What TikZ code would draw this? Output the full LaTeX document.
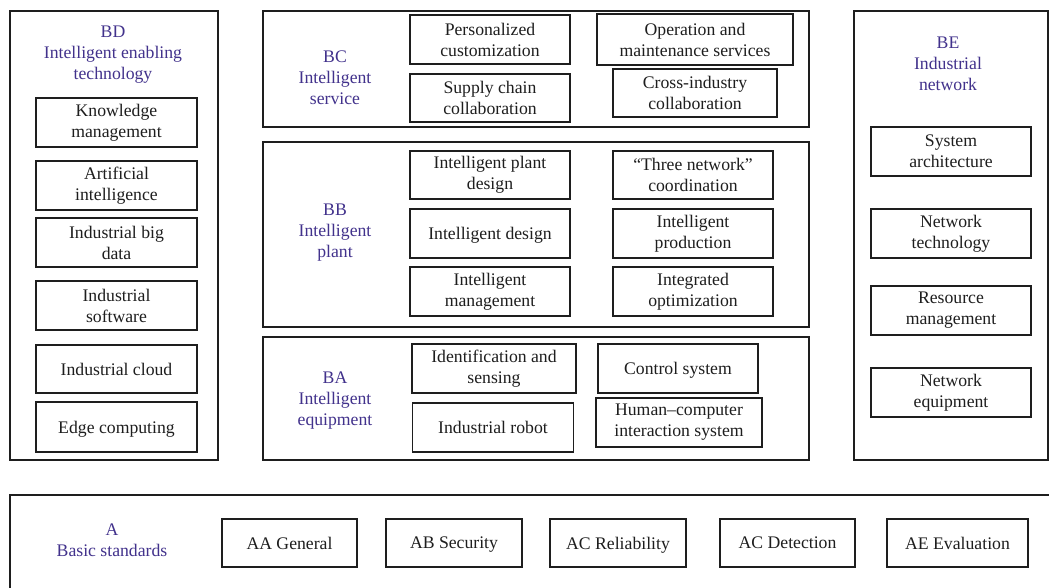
\documentclass[tikz,border=0pt]{standalone}
\usepackage{fontspec}
\setmainfont{Liberation Serif}
\definecolor{ttl}{RGB}{66,50,140}
\definecolor{ink}{RGB}{30,30,30}
\tikzset{
  outer/.style={draw=ink, line width=1.8pt, rectangle, inner sep=0pt},
  ibox/.style={draw=ink, line width=1.4pt, rectangle, inner sep=0pt, align=center,
    text=ink, font=\fontsize{17.7}{21}\selectfont},
  one/.style={text depth=0pt},
  ttlt/.style={align=center, text=ttl, inner sep=0pt, font=\fontsize{17.7}{21}\selectfont},
}
\begin{document}
\begin{tikzpicture}[x=1pt,y=-1pt]
\useasboundingbox (0,0) rectangle (1049,587);
\clip (0,0) rectangle (1049,587);
\fill[white] (0,0) rectangle (1049,587);
% BD
\node[outer, minimum width=208pt, minimum height=449pt] (bd) at (114,235.5) {};
\node[ttlt] (bdt) at (113,55) {BD\\Intelligent enabling\\technology};
\node[ibox, minimum width=161pt, minimum height=49pt] (kn) at (116.5,122.5) {Knowledge\\management};
\node[ibox, minimum width=161pt, minimum height=49pt] (ai) at (116.5,185.5) {Artificial\\intelligence};
\node[ibox, minimum width=161pt, minimum height=49pt] (bdat) at (116.5,242.5) {Industrial big\\data};
\node[ibox, minimum width=161pt, minimum height=49pt] (sw) at (116.5,305.5) {Industrial\\software};
\node[ibox, one, minimum width=161pt, minimum height=48pt] (cl) at (116.5,369) {Industrial cloud};
\node[ibox, one, minimum width=161pt, minimum height=50pt] (ec) at (116.5,427) {Edge computing};
% BC
\node[outer, minimum width=546pt, minimum height=116pt] (bc) at (536,69) {};
\node[ttlt] (bct) at (335,78) {BC\\Intelligent\\service};
\node[ibox, minimum width=160pt, minimum height=49pt] (pc) at (490,39.5) {Personalized\\customization};
\node[ibox, minimum width=196pt, minimum height=51pt] (om) at (695,39.5) {Operation and\\maintenance services};
\node[ibox, minimum width=160pt, minimum height=48pt] (sc) at (490,98) {Supply chain\\collaboration};
\node[ibox, minimum width=164pt, minimum height=48pt] (ci) at (695,93) {Cross-industry\\collaboration};
% BB
\node[outer, minimum width=546pt, minimum height=185pt] (bb) at (536,234.5) {};
\node[ttlt] (bbt) at (335,233) {BB\\Intelligent\\plant};
\node[ibox, minimum width=160pt, minimum height=48pt] (ipd) at (490,175) {Intelligent plant\\design};
\node[ibox, minimum width=160pt, minimum height=48pt] (tnc) at (693,175) {``Three network''\\coordination};
\node[ibox, one, minimum width=160pt, minimum height=49pt] (idz) at (490,233.5) {Intelligent design};
\node[ibox, minimum width=160pt, minimum height=49pt] (ipr) at (693,233.5) {Intelligent\\production};
\node[ibox, minimum width=160pt, minimum height=49pt] (imn) at (490,291.5) {Intelligent\\management};
\node[ibox, minimum width=160pt, minimum height=49pt] (iop) at (693,291.5) {Integrated\\optimization};
% BA
\node[outer, minimum width=546pt, minimum height=123pt] (ba) at (536,398.5) {};
\node[ttlt] (bat) at (335,401) {BA\\Intelligent\\equipment};
\node[ibox, minimum width=164pt, minimum height=49pt] (ids) at (494,368.5) {Identification and\\sensing};
\node[ibox, one, minimum width=160pt, minimum height=49pt] (cs) at (678,368.5) {Control system};
\node[ibox, one, minimum width=161pt, minimum height=49pt] (ir) at (493,427.5) {Industrial robot};
\node[ibox, minimum width=166pt, minimum height=49pt] (hci) at (679,422.5) {Human--computer\\interaction system};
% BE
\node[outer, minimum width=194pt, minimum height=449pt] (be) at (951,235.5) {};
\node[ttlt] (bet) at (948,64) {BE\\Industrial\\network};
\node[ibox, minimum width=160pt, minimum height=49pt] (sa) at (951,151.5) {System\\architecture};
\node[ibox, minimum width=160pt, minimum height=49pt] (nt) at (951,233.5) {Network\\technology};
\node[ibox, minimum width=160pt, minimum height=49pt] (rm) at (951,310.5) {Resource\\management};
\node[ibox, minimum width=160pt, minimum height=49pt] (ne) at (951,392.5) {Network\\equipment};
% A
\node[outer, minimum width=1060pt, minimum height=120pt] (a) at (540,555) {};
\node[ttlt] (at) at (112,540) {A\\Basic standards};
\node[ibox, one, minimum width=135pt, minimum height=48pt] (aa) at (289.5,543) {AA General};
\node[ibox, one, minimum width=136pt, minimum height=48pt] (ab) at (454,543) {AB Security};
\node[ibox, one, minimum width=136pt, minimum height=48pt] (acr) at (618,543) {AC Reliability};
\node[ibox, one, minimum width=135pt, minimum height=48pt] (acd) at (787.5,543) {AC Detection};
\node[ibox, one, minimum width=141pt, minimum height=48pt] (ae) at (957.5,543) {AE Evaluation};
\end{tikzpicture}
\end{document}
